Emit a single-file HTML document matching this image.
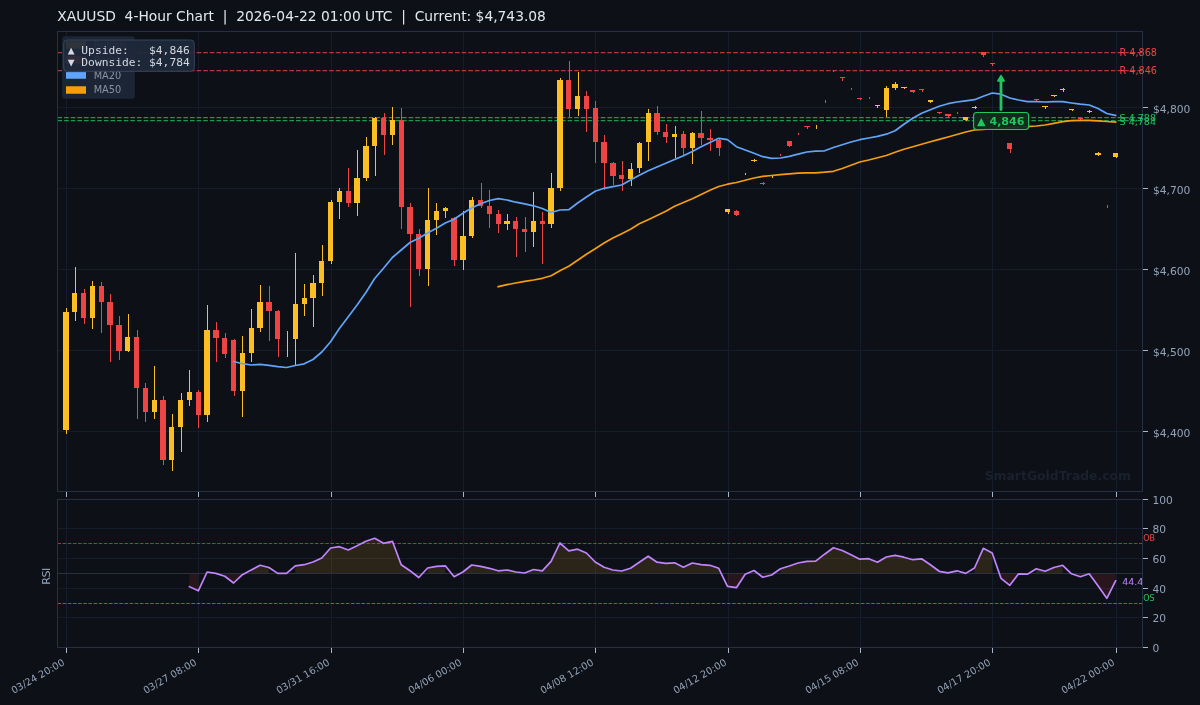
<!DOCTYPE html>
<html lang="en"><head><meta charset="utf-8"><title>XAUUSD 4-Hour Chart</title>
<style>html,body{margin:0;padding:0;background:#0d1117;}svg{display:block;will-change:transform;}</style></head>
<body>
<svg width="1200" height="705" viewBox="0 0 1200 705" font-family="'DejaVu Sans', 'Liberation Sans', sans-serif">
<rect x="0" y="0" width="1200" height="705" fill="#0d1117"/>
<g stroke="#161d2a" stroke-width="1" shape-rendering="crispEdges">
<line x1="66.5" y1="31.5" x2="66.5" y2="491.5"/>
<line x1="66.5" y1="499.5" x2="66.5" y2="647.5"/>
<line x1="198.5" y1="31.5" x2="198.5" y2="491.5"/>
<line x1="198.5" y1="499.5" x2="198.5" y2="647.5"/>
<line x1="331.5" y1="31.5" x2="331.5" y2="491.5"/>
<line x1="331.5" y1="499.5" x2="331.5" y2="647.5"/>
<line x1="463.5" y1="31.5" x2="463.5" y2="491.5"/>
<line x1="463.5" y1="499.5" x2="463.5" y2="647.5"/>
<line x1="595.5" y1="31.5" x2="595.5" y2="491.5"/>
<line x1="595.5" y1="499.5" x2="595.5" y2="647.5"/>
<line x1="728.5" y1="31.5" x2="728.5" y2="491.5"/>
<line x1="728.5" y1="499.5" x2="728.5" y2="647.5"/>
<line x1="860.5" y1="31.5" x2="860.5" y2="491.5"/>
<line x1="860.5" y1="499.5" x2="860.5" y2="647.5"/>
<line x1="992.5" y1="31.5" x2="992.5" y2="491.5"/>
<line x1="992.5" y1="499.5" x2="992.5" y2="647.5"/>
<line x1="1116.5" y1="31.5" x2="1116.5" y2="491.5"/>
<line x1="1116.5" y1="499.5" x2="1116.5" y2="647.5"/>
<line x1="57.5" y1="107.5" x2="1142.5" y2="107.5"/>
<line x1="57.5" y1="188.5" x2="1142.5" y2="188.5"/>
<line x1="57.5" y1="269.5" x2="1142.5" y2="269.5"/>
<line x1="57.5" y1="350.5" x2="1142.5" y2="350.5"/>
<line x1="57.5" y1="431.5" x2="1142.5" y2="431.5"/>
<line x1="57.5" y1="617.5" x2="1142.5" y2="617.5"/>
<line x1="57.5" y1="588.5" x2="1142.5" y2="588.5"/>
<line x1="57.5" y1="558.5" x2="1142.5" y2="558.5"/>
<line x1="57.5" y1="528.5" x2="1142.5" y2="528.5"/>
</g>
<line x1="57.5" y1="52.5" x2="1142.5" y2="52.5" stroke="#ef4444" stroke-width="1.25" stroke-dasharray="4.625 2.0" stroke-opacity="0.75"/>
<line x1="57.5" y1="70.5" x2="1142.5" y2="70.5" stroke="#ef4444" stroke-width="1.25" stroke-dasharray="4.625 2.0" stroke-opacity="0.75"/>
<line x1="57.5" y1="117.5" x2="1142.5" y2="117.5" stroke="#22c55e" stroke-width="1.25" stroke-dasharray="4.625 2.0" stroke-opacity="0.75"/>
<line x1="57.5" y1="120.5" x2="1142.5" y2="120.5" stroke="#22c55e" stroke-width="1.25" stroke-dasharray="4.625 2.0" stroke-opacity="0.75"/>
<g shape-rendering="crispEdges">
<rect x="66" y="308" width="1" height="126" fill="#fbbf24"/>
<rect x="63" y="312" width="6" height="118" fill="#fbbf24"/>
<rect x="75" y="267" width="1" height="54" fill="#fbbf24"/>
<rect x="72" y="293" width="5" height="19" fill="#fbbf24"/>
<rect x="84" y="289" width="1" height="35" fill="#ef4444"/>
<rect x="81" y="293" width="5" height="25" fill="#ef4444"/>
<rect x="92" y="281" width="1" height="48" fill="#fbbf24"/>
<rect x="90" y="286" width="5" height="32" fill="#fbbf24"/>
<rect x="101" y="282" width="1" height="51" fill="#ef4444"/>
<rect x="99" y="286" width="5" height="16" fill="#ef4444"/>
<rect x="110" y="294" width="1" height="68" fill="#ef4444"/>
<rect x="107" y="302" width="6" height="23" fill="#ef4444"/>
<rect x="119" y="316" width="1" height="44" fill="#ef4444"/>
<rect x="116" y="325" width="6" height="26" fill="#ef4444"/>
<rect x="128" y="314" width="1" height="38" fill="#fbbf24"/>
<rect x="125" y="337" width="5" height="14" fill="#fbbf24"/>
<rect x="137" y="330" width="1" height="89" fill="#ef4444"/>
<rect x="134" y="337" width="5" height="51" fill="#ef4444"/>
<rect x="145" y="383" width="1" height="39" fill="#ef4444"/>
<rect x="143" y="388" width="5" height="24" fill="#ef4444"/>
<rect x="154" y="366" width="1" height="53" fill="#fbbf24"/>
<rect x="152" y="400" width="5" height="12" fill="#fbbf24"/>
<rect x="163" y="396" width="1" height="69" fill="#ef4444"/>
<rect x="160" y="400" width="6" height="60" fill="#ef4444"/>
<rect x="172" y="414" width="1" height="57" fill="#fbbf24"/>
<rect x="169" y="427" width="5" height="33" fill="#fbbf24"/>
<rect x="181" y="393" width="1" height="59" fill="#fbbf24"/>
<rect x="178" y="400" width="5" height="27" fill="#fbbf24"/>
<rect x="189" y="370" width="1" height="36" fill="#fbbf24"/>
<rect x="187" y="392" width="5" height="8" fill="#fbbf24"/>
<rect x="198" y="390" width="1" height="38" fill="#ef4444"/>
<rect x="196" y="392" width="5" height="23" fill="#ef4444"/>
<rect x="207" y="305" width="1" height="117" fill="#fbbf24"/>
<rect x="204" y="330" width="6" height="85" fill="#fbbf24"/>
<rect x="216" y="322" width="1" height="40" fill="#ef4444"/>
<rect x="213" y="330" width="6" height="8" fill="#ef4444"/>
<rect x="225" y="333" width="1" height="25" fill="#ef4444"/>
<rect x="222" y="338" width="5" height="16" fill="#ef4444"/>
<rect x="234" y="339" width="1" height="57" fill="#ef4444"/>
<rect x="231" y="340" width="5" height="51" fill="#ef4444"/>
<rect x="242" y="336" width="1" height="81" fill="#fbbf24"/>
<rect x="240" y="353" width="5" height="38" fill="#fbbf24"/>
<rect x="251" y="309" width="1" height="53" fill="#fbbf24"/>
<rect x="249" y="328" width="5" height="25" fill="#fbbf24"/>
<rect x="260" y="285" width="1" height="47" fill="#fbbf24"/>
<rect x="257" y="302" width="6" height="26" fill="#fbbf24"/>
<rect x="269" y="286" width="1" height="55" fill="#ef4444"/>
<rect x="266" y="302" width="6" height="9" fill="#ef4444"/>
<rect x="278" y="310" width="1" height="47" fill="#ef4444"/>
<rect x="275" y="311" width="5" height="28" fill="#ef4444"/>
<rect x="287" y="331" width="1" height="26" fill="#fbbf24"/>
<rect x="295" y="253" width="1" height="112" fill="#fbbf24"/>
<rect x="293" y="304" width="5" height="35" fill="#fbbf24"/>
<rect x="304" y="284" width="1" height="32" fill="#fbbf24"/>
<rect x="302" y="298" width="5" height="6" fill="#fbbf24"/>
<rect x="313" y="275" width="1" height="52" fill="#fbbf24"/>
<rect x="310" y="283" width="6" height="15" fill="#fbbf24"/>
<rect x="322" y="245" width="1" height="51" fill="#fbbf24"/>
<rect x="319" y="261" width="5" height="22" fill="#fbbf24"/>
<rect x="331" y="200" width="1" height="64" fill="#fbbf24"/>
<rect x="328" y="202" width="5" height="59" fill="#fbbf24"/>
<rect x="339" y="188" width="1" height="31" fill="#fbbf24"/>
<rect x="337" y="191" width="5" height="11" fill="#fbbf24"/>
<rect x="348" y="168" width="1" height="39" fill="#ef4444"/>
<rect x="346" y="191" width="5" height="12" fill="#ef4444"/>
<rect x="357" y="150" width="1" height="66" fill="#fbbf24"/>
<rect x="354" y="178" width="6" height="25" fill="#fbbf24"/>
<rect x="366" y="137" width="1" height="44" fill="#fbbf24"/>
<rect x="363" y="146" width="6" height="32" fill="#fbbf24"/>
<rect x="375" y="117" width="1" height="59" fill="#fbbf24"/>
<rect x="372" y="118" width="5" height="28" fill="#fbbf24"/>
<rect x="384" y="113" width="1" height="42" fill="#ef4444"/>
<rect x="381" y="118" width="5" height="17" fill="#ef4444"/>
<rect x="392" y="107" width="1" height="38" fill="#fbbf24"/>
<rect x="390" y="120" width="5" height="15" fill="#fbbf24"/>
<rect x="401" y="108" width="1" height="121" fill="#ef4444"/>
<rect x="399" y="120" width="5" height="87" fill="#ef4444"/>
<rect x="410" y="203" width="1" height="104" fill="#ef4444"/>
<rect x="407" y="207" width="6" height="27" fill="#ef4444"/>
<rect x="419" y="229" width="1" height="47" fill="#ef4444"/>
<rect x="416" y="234" width="5" height="35" fill="#ef4444"/>
<rect x="428" y="188" width="1" height="98" fill="#fbbf24"/>
<rect x="425" y="220" width="5" height="49" fill="#fbbf24"/>
<rect x="436" y="203" width="1" height="32" fill="#fbbf24"/>
<rect x="434" y="211" width="5" height="9" fill="#fbbf24"/>
<rect x="445" y="207" width="1" height="11" fill="#fbbf24"/>
<rect x="443" y="208" width="5" height="3" fill="#fbbf24"/>
<rect x="454" y="217" width="1" height="49" fill="#ef4444"/>
<rect x="451" y="218" width="6" height="42" fill="#ef4444"/>
<rect x="463" y="211" width="1" height="59" fill="#fbbf24"/>
<rect x="460" y="236" width="6" height="24" fill="#fbbf24"/>
<rect x="472" y="197" width="1" height="41" fill="#fbbf24"/>
<rect x="469" y="200" width="5" height="36" fill="#fbbf24"/>
<rect x="481" y="183" width="1" height="25" fill="#ef4444"/>
<rect x="478" y="200" width="5" height="6" fill="#ef4444"/>
<rect x="489" y="190" width="1" height="38" fill="#ef4444"/>
<rect x="487" y="206" width="5" height="8" fill="#ef4444"/>
<rect x="498" y="210" width="1" height="23" fill="#ef4444"/>
<rect x="496" y="214" width="5" height="10" fill="#ef4444"/>
<rect x="507" y="214" width="1" height="16" fill="#fbbf24"/>
<rect x="504" y="221" width="6" height="3" fill="#fbbf24"/>
<rect x="516" y="217" width="1" height="40" fill="#ef4444"/>
<rect x="513" y="221" width="5" height="8" fill="#ef4444"/>
<rect x="525" y="217" width="1" height="35" fill="#ef4444"/>
<rect x="522" y="229" width="5" height="3" fill="#ef4444"/>
<rect x="533" y="192" width="1" height="55" fill="#fbbf24"/>
<rect x="531" y="221" width="5" height="11" fill="#fbbf24"/>
<rect x="542" y="212" width="1" height="52" fill="#ef4444"/>
<rect x="540" y="221" width="5" height="3" fill="#ef4444"/>
<rect x="551" y="173" width="1" height="55" fill="#fbbf24"/>
<rect x="548" y="188" width="6" height="36" fill="#fbbf24"/>
<rect x="560" y="78" width="1" height="113" fill="#fbbf24"/>
<rect x="557" y="80" width="6" height="108" fill="#fbbf24"/>
<rect x="569" y="61" width="1" height="56" fill="#ef4444"/>
<rect x="566" y="80" width="5" height="29" fill="#ef4444"/>
<rect x="578" y="72" width="1" height="44" fill="#fbbf24"/>
<rect x="575" y="96" width="5" height="13" fill="#fbbf24"/>
<rect x="586" y="91" width="1" height="41" fill="#ef4444"/>
<rect x="584" y="96" width="5" height="13" fill="#ef4444"/>
<rect x="595" y="101" width="1" height="62" fill="#ef4444"/>
<rect x="593" y="108" width="5" height="34" fill="#ef4444"/>
<rect x="604" y="135" width="1" height="55" fill="#ef4444"/>
<rect x="601" y="142" width="6" height="21" fill="#ef4444"/>
<rect x="613" y="162" width="1" height="23" fill="#ef4444"/>
<rect x="610" y="163" width="6" height="13" fill="#ef4444"/>
<rect x="622" y="161" width="1" height="30" fill="#ef4444"/>
<rect x="619" y="175" width="5" height="4" fill="#ef4444"/>
<rect x="631" y="163" width="1" height="23" fill="#fbbf24"/>
<rect x="628" y="169" width="5" height="10" fill="#fbbf24"/>
<rect x="639" y="142" width="1" height="31" fill="#fbbf24"/>
<rect x="637" y="143" width="5" height="25" fill="#fbbf24"/>
<rect x="648" y="109" width="1" height="52" fill="#fbbf24"/>
<rect x="646" y="113" width="5" height="29" fill="#fbbf24"/>
<rect x="657" y="106" width="1" height="29" fill="#ef4444"/>
<rect x="654" y="113" width="6" height="19" fill="#ef4444"/>
<rect x="666" y="124" width="1" height="19" fill="#ef4444"/>
<rect x="663" y="132" width="5" height="5" fill="#ef4444"/>
<rect x="675" y="126" width="1" height="32" fill="#fbbf24"/>
<rect x="672" y="134" width="5" height="3" fill="#fbbf24"/>
<rect x="683" y="131" width="1" height="24" fill="#ef4444"/>
<rect x="681" y="134" width="5" height="14" fill="#ef4444"/>
<rect x="692" y="132" width="1" height="32" fill="#fbbf24"/>
<rect x="690" y="133" width="5" height="15" fill="#fbbf24"/>
<rect x="701" y="111" width="1" height="34" fill="#ef4444"/>
<rect x="698" y="133" width="6" height="5" fill="#ef4444"/>
<rect x="710" y="129" width="1" height="22" fill="#ef4444"/>
<rect x="707" y="138" width="6" height="2" fill="#ef4444"/>
<rect x="719" y="139" width="1" height="17" fill="#ef4444"/>
<rect x="716" y="140" width="5" height="8" fill="#ef4444"/>
<rect x="728" y="209" width="1" height="5" fill="#fbbf24"/>
<rect x="725" y="209" width="5" height="3" fill="#fbbf24"/>
<rect x="736" y="210" width="1" height="6" fill="#ef4444"/>
<rect x="734" y="211" width="5" height="4" fill="#ef4444"/>
<rect x="745" y="173" width="1" height="2" fill="#fbbf24"/>
<rect x="754" y="159" width="1" height="3" fill="#fbbf24"/>
<rect x="751" y="160" width="6" height="1" fill="#fbbf24"/>
<rect x="763" y="182" width="1" height="3" fill="#ef4444"/>
<rect x="760" y="183" width="5" height="1" fill="#ef4444"/>
<rect x="772" y="176" width="1" height="2" fill="#fbbf24"/>
<rect x="780" y="154" width="1" height="2" fill="#ef4444"/>
<rect x="789" y="141" width="1" height="6" fill="#ef4444"/>
<rect x="787" y="141" width="5" height="5" fill="#ef4444"/>
<rect x="798" y="133" width="1" height="2" fill="#ef4444"/>
<rect x="807" y="126" width="1" height="3" fill="#ef4444"/>
<rect x="804" y="126" width="6" height="1" fill="#ef4444"/>
<rect x="816" y="125" width="1" height="4" fill="#fbbf24"/>
<rect x="825" y="100" width="1" height="3" fill="#ef4444"/>
<rect x="833" y="70" width="1" height="2" fill="#ef4444"/>
<rect x="842" y="77" width="1" height="4" fill="#ef4444"/>
<rect x="840" y="77" width="5" height="1" fill="#ef4444"/>
<rect x="851" y="88" width="1" height="2" fill="#ef4444"/>
<rect x="860" y="98" width="1" height="2" fill="#ef4444"/>
<rect x="857" y="98" width="5" height="1" fill="#ef4444"/>
<rect x="869" y="97" width="1" height="2" fill="#ef4444"/>
<rect x="877" y="105" width="1" height="3" fill="#fbbf24"/>
<rect x="875" y="105" width="5" height="1" fill="#fbbf24"/>
<rect x="886" y="86" width="1" height="31" fill="#fbbf24"/>
<rect x="884" y="88" width="5" height="22" fill="#fbbf24"/>
<rect x="895" y="82" width="1" height="8" fill="#fbbf24"/>
<rect x="892" y="84" width="6" height="4" fill="#fbbf24"/>
<rect x="904" y="87" width="1" height="2" fill="#fbbf24"/>
<rect x="901" y="87" width="6" height="1" fill="#fbbf24"/>
<rect x="913" y="90" width="1" height="3" fill="#ef4444"/>
<rect x="910" y="90" width="5" height="2" fill="#ef4444"/>
<rect x="922" y="89" width="1" height="3" fill="#ef4444"/>
<rect x="919" y="89" width="5" height="1" fill="#ef4444"/>
<rect x="930" y="100" width="1" height="3" fill="#fbbf24"/>
<rect x="928" y="100" width="5" height="2" fill="#fbbf24"/>
<rect x="939" y="112" width="1" height="2" fill="#ef4444"/>
<rect x="937" y="112" width="5" height="1" fill="#ef4444"/>
<rect x="948" y="114" width="1" height="4" fill="#ef4444"/>
<rect x="945" y="114" width="6" height="2" fill="#ef4444"/>
<rect x="957" y="112" width="1" height="2" fill="#ef4444"/>
<rect x="966" y="117" width="1" height="4" fill="#fbbf24"/>
<rect x="963" y="117" width="5" height="3" fill="#fbbf24"/>
<rect x="975" y="106" width="1" height="3" fill="#fbbf24"/>
<rect x="972" y="107" width="5" height="1" fill="#fbbf24"/>
<rect x="983" y="52" width="1" height="5" fill="#ef4444"/>
<rect x="981" y="52" width="5" height="3" fill="#ef4444"/>
<rect x="992" y="63" width="1" height="3" fill="#ef4444"/>
<rect x="990" y="63" width="5" height="1" fill="#ef4444"/>
<rect x="1010" y="143" width="1" height="10" fill="#ef4444"/>
<rect x="1007" y="143" width="5" height="6" fill="#ef4444"/>
<rect x="1036" y="99" width="1" height="2" fill="#ef4444"/>
<rect x="1034" y="99" width="5" height="1" fill="#ef4444"/>
<rect x="1045" y="106" width="1" height="3" fill="#fbbf24"/>
<rect x="1042" y="106" width="6" height="1" fill="#fbbf24"/>
<rect x="1054" y="95" width="1" height="2" fill="#fbbf24"/>
<rect x="1051" y="95" width="6" height="1" fill="#fbbf24"/>
<rect x="1063" y="88" width="1" height="4" fill="#fbbf24"/>
<rect x="1060" y="89" width="5" height="1" fill="#fbbf24"/>
<rect x="1072" y="109" width="1" height="2" fill="#fbbf24"/>
<rect x="1069" y="109" width="5" height="1" fill="#fbbf24"/>
<rect x="1080" y="118" width="1" height="2" fill="#ef4444"/>
<rect x="1078" y="118" width="5" height="1" fill="#ef4444"/>
<rect x="1089" y="110" width="1" height="3" fill="#fbbf24"/>
<rect x="1087" y="111" width="5" height="1" fill="#fbbf24"/>
<rect x="1098" y="152" width="1" height="4" fill="#fbbf24"/>
<rect x="1095" y="153" width="6" height="2" fill="#fbbf24"/>
<rect x="1107" y="205" width="1" height="3" fill="#ef4444"/>
<rect x="1116" y="153" width="1" height="5" fill="#fbbf24"/>
<rect x="1113" y="153" width="5" height="4" fill="#fbbf24"/>
</g>
<polyline points="233.6,361.5 242.4,363.7 251.2,365.0 260.1,364.3 268.9,365.3 277.7,366.7 286.5,367.5 295.3,365.5 304.2,363.8 313.0,359.5 321.8,352.0 330.6,341.7 339.4,328.5 348.3,316.7 357.1,305.0 365.9,292.5 374.7,278.5 383.5,268.3 392.4,257.5 401.2,250.0 410.0,242.5 418.8,238.3 427.6,233.0 436.5,228.3 445.3,223.0 454.1,219.2 462.9,213.3 471.7,208.0 480.6,203.8 489.4,200.5 498.2,198.7 507.0,200.0 515.8,202.2 524.7,203.8 533.5,205.8 542.3,208.5 551.1,212.5 559.9,210.0 568.8,209.7 577.6,203.0 586.4,197.0 595.2,191.3 604.1,188.3 612.9,186.7 621.7,185.0 630.5,180.0 639.3,175.3 648.2,170.8 657.0,167.0 665.8,163.3 674.6,159.5 683.4,155.8 692.3,151.5 701.1,146.7 709.9,142.5 718.7,138.3 727.5,139.7 736.4,146.7 745.2,150.0 754.0,153.3 762.8,156.7 771.6,158.3 780.5,158.0 789.3,156.3 798.1,154.2 806.9,152.0 815.7,151.2 824.6,150.8 833.4,147.5 842.2,144.7 851.0,142.0 859.8,139.7 868.7,138.0 877.5,136.3 886.3,134.2 895.1,130.8 903.9,124.2 912.8,118.3 921.6,113.3 930.4,109.7 939.2,106.3 948.0,103.7 956.9,102.0 965.7,100.8 974.5,99.7 983.3,96.3 992.2,93.0 1001.0,94.2 1009.8,98.0 1018.6,100.0 1027.4,101.7 1036.3,101.7 1045.1,102.0 1053.9,101.7 1062.7,101.7 1071.5,103.0 1080.4,104.2 1089.2,105.0 1098.0,108.5 1106.8,113.5 1115.6,115.5" fill="none" stroke="#60a5fa" stroke-width="1.7" stroke-linejoin="round" stroke-linecap="square"/>
<polyline points="498.2,286.7 507.0,284.7 515.8,283.0 524.7,281.3 533.5,280.0 542.3,278.3 551.1,275.8 559.9,270.8 568.8,266.2 577.6,260.3 586.4,254.2 595.2,248.8 604.1,243.0 612.9,238.0 621.7,233.7 630.5,229.2 639.3,223.8 648.2,219.7 657.0,215.5 665.8,211.3 674.6,206.3 683.4,202.5 692.3,198.7 701.1,194.5 709.9,190.3 718.7,186.5 727.5,184.2 736.4,182.5 745.2,180.3 754.0,178.0 762.8,176.3 771.6,175.5 780.5,174.7 789.3,173.8 798.1,173.2 806.9,172.9 815.7,172.8 824.6,172.2 833.4,171.3 842.2,168.5 851.0,165.3 859.8,162.0 868.7,160.0 877.5,157.7 886.3,155.5 895.1,152.3 903.9,149.2 912.8,146.8 921.6,144.3 930.4,141.8 939.2,139.4 948.0,137.0 956.9,134.5 965.7,132.0 974.5,130.0 983.3,129.3 992.2,128.7 1001.0,128.1 1009.8,127.5 1018.6,127.0 1027.4,126.7 1036.3,126.0 1045.1,125.0 1053.9,123.3 1062.7,121.7 1071.5,120.7 1080.4,120.3 1089.2,120.3 1098.0,120.8 1106.8,121.5 1115.6,122.0" fill="none" stroke="#f59e0b" stroke-width="1.7" stroke-linejoin="round" stroke-linecap="square"/>
<rect x="57.5" y="31.5" width="1085.0" height="460.0" fill="none" stroke="#253044" stroke-width="1" shape-rendering="crispEdges"/>
<text x="1119.6" y="56.3" font-size="9.65" fill="#ef4444" text-anchor="start" font-weight="normal" >R 4,868</text>
<text x="1119.6" y="74.3" font-size="9.65" fill="#ef4444" text-anchor="start" font-weight="normal" >R 4,846</text>
<text x="1119.6" y="121.4" font-size="9.55" fill="#22c55e" text-anchor="start" font-weight="normal" >S 4,788</text>
<text x="1119.6" y="124.7" font-size="9.55" fill="#22c55e" text-anchor="start" font-weight="normal" >S 4,784</text>
<text x="1131" y="480" font-size="12.4" fill="#19212f" text-anchor="end" font-weight="bold" >SmartGoldTrade.com</text>
<rect x="62.1" y="36.2" width="72.7" height="62.6" rx="2.5" fill="#1e293b" fill-opacity="0.85"/>
<rect x="66" y="41.25" width="20" height="7.5" fill="#fbbf24"/>
<text x="93.7" y="49.3" font-size="9.75" fill="#8b93a1" text-anchor="start" font-weight="normal" >Bullish</text>
<rect x="66" y="56.0" width="20" height="7.75" fill="#ef4444"/>
<text x="93.7" y="64.0" font-size="9.75" fill="#8b93a1" text-anchor="start" font-weight="normal" >Bearish</text>
<rect x="66" y="72.1" width="20" height="6.650000000000006" fill="#60a5fa"/>
<text x="93.7" y="78.8" font-size="9.75" fill="#8b93a1" text-anchor="start" font-weight="normal" >MA20</text>
<rect x="66" y="86.25" width="20" height="7.5" fill="#f59e0b"/>
<text x="93.7" y="93.0" font-size="9.75" fill="#8b93a1" text-anchor="start" font-weight="normal" >MA50</text>
<rect x="63.7" y="40" width="130.6" height="31.3" rx="3.5" fill="#1e293b" fill-opacity="0.93" stroke="#3a485e" stroke-width="0.9"/>
<text font-family="'DejaVu Sans Mono', 'Liberation Mono', monospace" font-size="11.25" fill="#d3d8e1" xml:space="preserve"><tspan x="67.8" y="53.9">▲ Upside:   $4,846</tspan><tspan x="67.8" y="66.1">▼ Downside: $4,784</tspan></text>
<line x1="1001" y1="109.6" x2="1001" y2="80" stroke="#22c55e" stroke-width="2.8" stroke-linecap="round"/>
<path d="M1001 75.7 L1004.1 81.0 L997.9 81.0 Z" fill="#22c55e" stroke="#22c55e" stroke-width="1.6" stroke-linejoin="round"/>
<rect x="973.6" y="112.5" width="55" height="17" rx="3" fill="#112c1d" fill-opacity="0.94" stroke="#22c55e" stroke-width="1.1"/>
<text x="1000.8" y="124.9" font-size="11.1" fill="#22c55e" text-anchor="middle" font-weight="bold" >▲ 4,846</text>
<g stroke="#a9b5c8" stroke-width="1" shape-rendering="crispEdges">
<line x1="66.5" y1="492.0" x2="66.5" y2="496.5"/>
<line x1="66.5" y1="648.0" x2="66.5" y2="653.0"/>
<line x1="198.5" y1="492.0" x2="198.5" y2="496.5"/>
<line x1="198.5" y1="648.0" x2="198.5" y2="653.0"/>
<line x1="331.5" y1="492.0" x2="331.5" y2="496.5"/>
<line x1="331.5" y1="648.0" x2="331.5" y2="653.0"/>
<line x1="463.5" y1="492.0" x2="463.5" y2="496.5"/>
<line x1="463.5" y1="648.0" x2="463.5" y2="653.0"/>
<line x1="595.5" y1="492.0" x2="595.5" y2="496.5"/>
<line x1="595.5" y1="648.0" x2="595.5" y2="653.0"/>
<line x1="728.5" y1="492.0" x2="728.5" y2="496.5"/>
<line x1="728.5" y1="648.0" x2="728.5" y2="653.0"/>
<line x1="860.5" y1="492.0" x2="860.5" y2="496.5"/>
<line x1="860.5" y1="648.0" x2="860.5" y2="653.0"/>
<line x1="992.5" y1="492.0" x2="992.5" y2="496.5"/>
<line x1="992.5" y1="648.0" x2="992.5" y2="653.0"/>
<line x1="1116.5" y1="492.0" x2="1116.5" y2="496.5"/>
<line x1="1116.5" y1="648.0" x2="1116.5" y2="653.0"/>
<line x1="1143.0" y1="107.5" x2="1148.0" y2="107.5"/>
<line x1="1143.0" y1="188.5" x2="1148.0" y2="188.5"/>
<line x1="1143.0" y1="269.5" x2="1148.0" y2="269.5"/>
<line x1="1143.0" y1="350.5" x2="1148.0" y2="350.5"/>
<line x1="1143.0" y1="431.5" x2="1148.0" y2="431.5"/>
<line x1="1143.0" y1="647.5" x2="1148.0" y2="647.5"/>
<line x1="1143.0" y1="617.5" x2="1148.0" y2="617.5"/>
<line x1="1143.0" y1="588.5" x2="1148.0" y2="588.5"/>
<line x1="1143.0" y1="558.5" x2="1148.0" y2="558.5"/>
<line x1="1143.0" y1="528.5" x2="1148.0" y2="528.5"/>
<line x1="1143.0" y1="499.5" x2="1148.0" y2="499.5"/>
</g>
<text x="1152.9" y="112.5" font-size="10.72" fill="#94a3b8" text-anchor="start" font-weight="normal" >$4,800</text>
<text x="1152.9" y="193.5" font-size="10.72" fill="#94a3b8" text-anchor="start" font-weight="normal" >$4,700</text>
<text x="1152.9" y="274.5" font-size="10.72" fill="#94a3b8" text-anchor="start" font-weight="normal" >$4,600</text>
<text x="1152.9" y="355.5" font-size="10.72" fill="#94a3b8" text-anchor="start" font-weight="normal" >$4,500</text>
<text x="1152.9" y="436.5" font-size="10.72" fill="#94a3b8" text-anchor="start" font-weight="normal" >$4,400</text>
<text x="1152.5" y="651.6" font-size="10.65" fill="#94a3b8" text-anchor="start" font-weight="normal" >0</text>
<text x="1152.5" y="621.6" font-size="10.65" fill="#94a3b8" text-anchor="start" font-weight="normal" >20</text>
<text x="1152.5" y="592.6" font-size="10.65" fill="#94a3b8" text-anchor="start" font-weight="normal" >40</text>
<text x="1152.5" y="562.6" font-size="10.65" fill="#94a3b8" text-anchor="start" font-weight="normal" >60</text>
<text x="1152.5" y="532.6" font-size="10.65" fill="#94a3b8" text-anchor="start" font-weight="normal" >80</text>
<text x="1152.5" y="503.6" font-size="10.65" fill="#94a3b8" text-anchor="start" font-weight="normal" >100</text>
<polygon points="251.2,573.5 251.2,570.0 260.1,565.3 268.9,567.5 268.9,573.5" fill="#fbbf24" fill-opacity="0.12"/>
<polygon points="295.3,573.5 295.3,565.8 304.2,564.7 313.0,562.0 321.8,558.0 330.6,548.0 339.4,546.7 348.3,550.0 357.1,545.8 365.9,541.3 374.7,538.3 383.5,543.3 392.4,541.3 401.2,564.7 410.0,570.8 410.0,573.5" fill="#fbbf24" fill-opacity="0.12"/>
<polygon points="427.6,573.5 427.6,568.0 436.5,566.3 445.3,565.8 445.3,573.5" fill="#fbbf24" fill-opacity="0.12"/>
<polygon points="462.9,573.5 462.9,572.0 471.7,565.0 480.6,566.3 489.4,568.3 498.2,570.8 507.0,570.0 515.8,572.0 524.7,573.0 533.5,569.5 542.3,570.8 551.1,561.3 559.9,543.0 568.8,550.8 577.6,549.2 586.4,553.0 595.2,562.0 604.1,567.2 612.9,570.0 621.7,571.0 630.5,568.3 639.3,562.2 648.2,556.2 657.0,562.2 665.8,563.3 674.6,562.8 683.4,567.2 692.3,563.0 701.1,564.7 709.9,565.3 718.7,568.3 718.7,573.5" fill="#fbbf24" fill-opacity="0.12"/>
<polygon points="780.5,573.5 780.5,568.7 789.3,566.0 798.1,563.0 806.9,561.3 815.7,561.2 824.6,554.2 833.4,547.8 842.2,550.5 851.0,554.7 859.8,559.2 868.7,558.7 877.5,562.2 886.3,557.0 895.1,555.3 903.9,557.2 912.8,559.7 921.6,558.8 930.4,564.7 939.2,571.3 948.0,572.8 956.9,570.8 956.9,573.5" fill="#fbbf24" fill-opacity="0.12"/>
<polygon points="974.5,573.5 974.5,568.0 983.3,548.3 992.2,553.0 992.2,573.5" fill="#fbbf24" fill-opacity="0.12"/>
<polygon points="1036.3,573.5 1036.3,568.7 1045.1,571.2 1053.9,567.5 1062.7,565.3 1062.7,573.5" fill="#fbbf24" fill-opacity="0.12"/>
<polygon points="189.5,573.5 189.5,586.7 198.3,590.8 198.3,573.5" fill="#ef4444" fill-opacity="0.12"/>
<polygon points="224.8,573.5 224.8,576.3 233.6,583.0 242.4,574.7 242.4,573.5" fill="#ef4444" fill-opacity="0.12"/>
<polygon points="727.5,573.5 727.5,586.3 736.4,587.7 745.2,574.2 745.2,573.5" fill="#ef4444" fill-opacity="0.12"/>
<polygon points="762.8,573.5 762.8,577.2 771.6,575.0 771.6,573.5" fill="#ef4444" fill-opacity="0.12"/>
<polygon points="1001.0,573.5 1001.0,578.3 1009.8,585.3 1018.6,573.8 1027.4,574.2 1027.4,573.5" fill="#ef4444" fill-opacity="0.12"/>
<polygon points="1071.5,573.5 1071.5,573.8 1080.4,576.7 1089.2,573.8 1098.0,585.8 1106.8,598.3 1115.6,580.8 1115.6,573.5" fill="#ef4444" fill-opacity="0.12"/>
<line x1="57.5" y1="573.5" x2="1142.5" y2="573.5" stroke="#29313f" stroke-width="1" stroke-opacity="1" shape-rendering="crispEdges"/>
<line x1="57.5" y1="543.5" x2="1142.5" y2="543.5" stroke="#ef4444" stroke-width="1.0" stroke-dasharray="3.6 1.55" stroke-opacity="0.7"/>
<line x1="57.5" y1="603.5" x2="1142.5" y2="603.5" stroke="#22c55e" stroke-width="1.0" stroke-dasharray="3.6 1.55" stroke-opacity="0.7"/>
<polyline points="189.5,586.7 198.3,590.8 207.1,572.0 215.9,573.4 224.8,576.3 233.6,583.0 242.4,574.7 251.2,570.0 260.1,565.3 268.9,567.5 277.7,573.4 286.5,573.4 295.3,565.8 304.2,564.7 313.0,562.0 321.8,558.0 330.6,548.0 339.4,546.7 348.3,550.0 357.1,545.8 365.9,541.3 374.7,538.3 383.5,543.3 392.4,541.3 401.2,564.7 410.0,570.8 418.8,577.5 427.6,568.0 436.5,566.3 445.3,565.8 454.1,576.7 462.9,572.0 471.7,565.0 480.6,566.3 489.4,568.3 498.2,570.8 507.0,570.0 515.8,572.0 524.7,573.0 533.5,569.5 542.3,570.8 551.1,561.3 559.9,543.0 568.8,550.8 577.6,549.2 586.4,553.0 595.2,562.0 604.1,567.2 612.9,570.0 621.7,571.0 630.5,568.3 639.3,562.2 648.2,556.2 657.0,562.2 665.8,563.3 674.6,562.8 683.4,567.2 692.3,563.0 701.1,564.7 709.9,565.3 718.7,568.3 727.5,586.3 736.4,587.7 745.2,574.2 754.0,570.5 762.8,577.2 771.6,575.0 780.5,568.7 789.3,566.0 798.1,563.0 806.9,561.3 815.7,561.2 824.6,554.2 833.4,547.8 842.2,550.5 851.0,554.7 859.8,559.2 868.7,558.7 877.5,562.2 886.3,557.0 895.1,555.3 903.9,557.2 912.8,559.7 921.6,558.8 930.4,564.7 939.2,571.3 948.0,572.8 956.9,570.8 965.7,573.4 974.5,568.0 983.3,548.3 992.2,553.0 1001.0,578.3 1009.8,585.3 1018.6,573.8 1027.4,574.2 1036.3,568.7 1045.1,571.2 1053.9,567.5 1062.7,565.3 1071.5,573.8 1080.4,576.7 1089.2,573.8 1098.0,585.8 1106.8,598.3 1115.6,580.8" fill="none" stroke="#c084fc" stroke-width="1.7" stroke-linejoin="round" stroke-linecap="square"/>
<text x="1143.2" y="540.8" font-size="8.0" fill="#ef4444" text-anchor="start" font-weight="normal" >OB</text>
<text x="1143.2" y="600.8" font-size="8.0" fill="#22c55e" text-anchor="start" font-weight="normal" >OS</text>
<text x="1122.3" y="585.0" font-size="9.45" fill="#c084fc" text-anchor="start" font-weight="normal" >44.4</text>
<rect x="57.5" y="499.5" width="1085.0" height="148.0" fill="none" stroke="#253044" stroke-width="1" shape-rendering="crispEdges"/>
<text transform="translate(50,576.5) rotate(-90)" font-size="11.1" fill="#94a3b8" text-anchor="middle" letter-spacing="-0.5">RSI</text>
<text transform="translate(65.3,664.3) rotate(-30)" font-size="9.8" fill="#94a3b8" text-anchor="end">03/24 20:00</text>
<text transform="translate(197.3,664.3) rotate(-30)" font-size="9.8" fill="#94a3b8" text-anchor="end">03/27 08:00</text>
<text transform="translate(330.3,664.3) rotate(-30)" font-size="9.8" fill="#94a3b8" text-anchor="end">03/31 16:00</text>
<text transform="translate(462.3,664.3) rotate(-30)" font-size="9.8" fill="#94a3b8" text-anchor="end">04/06 00:00</text>
<text transform="translate(594.3,664.3) rotate(-30)" font-size="9.8" fill="#94a3b8" text-anchor="end">04/08 12:00</text>
<text transform="translate(727.3,664.3) rotate(-30)" font-size="9.8" fill="#94a3b8" text-anchor="end">04/12 20:00</text>
<text transform="translate(859.3,664.3) rotate(-30)" font-size="9.8" fill="#94a3b8" text-anchor="end">04/15 08:00</text>
<text transform="translate(991.3,664.3) rotate(-30)" font-size="9.8" fill="#94a3b8" text-anchor="end">04/17 20:00</text>
<text transform="translate(1115.3,664.3) rotate(-30)" font-size="9.8" fill="#94a3b8" text-anchor="end">04/22 00:00</text>
<text x="57.3" y="21.3" font-size="13.82" fill="#e2e8f0" xml:space="preserve">XAUUSD  4-Hour Chart  |  2026-04-22 01:00 UTC  |  Current: $4,743.08</text>
</svg>
</body></html>
